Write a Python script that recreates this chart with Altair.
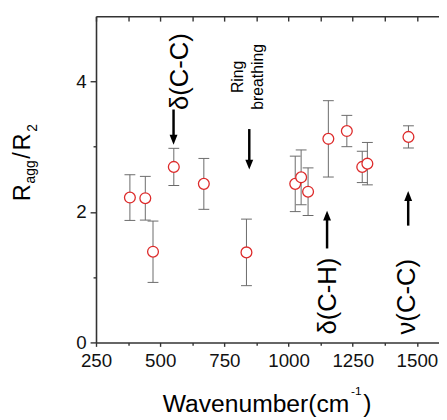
import altair as alt
import pandas as pd

# ---- data ----
wavenumber = [382, 442, 472, 553, 670, 836, 1026, 1049, 1076, 1155, 1227, 1287, 1307, 1467]
ratio = [2.22, 2.21, 1.39, 2.69, 2.43, 1.38, 2.43, 2.53, 2.31, 3.12, 3.24, 2.69, 2.74, 3.15]
error = [0.35, 0.335, 0.47, 0.285, 0.39, 0.51, 0.425, 0.42, 0.365, 0.585, 0.24, 0.24, 0.325, 0.17]

arrow_x = [552, 847, 1150, 1466]
arrow_tail = [3.57, 3.27, 1.44, 1.79]
arrow_tip = [3.03, 2.65, 2.02, 2.32]

big_labels = ["δ(C-C)", "δ(C-H)", "ν(C-C)"]
big_label_x = [579, 1155, 1462]
big_label_y = [4.15, 0.71, 0.70]
small_labels = ["Ring", "breathing"]
small_label_x = [802, 882]
small_label_y = [4.07, 4.07]

x_ticks = [250, 375, 500, 625, 750, 875, 1000, 1125, 1250, 1375, 1500]
y_ticks = [0, 1, 2, 3, 4]
x_domain = [250, 1586]
y_domain = [0, 5.0]

x_title_parts = ["Wavenumber(cm", "-1", ")"]
y_title_parts = ["R", "agg", "/", "R", "2"]

# ---- styling ----
FONT = "Liberation Sans"
AX = "#333333"
RED = "#dd2a2a"
GREY = "#6a6a6a"

df = pd.DataFrame({"w": wavenumber, "r": ratio, "e": error})
df["lo"] = df["r"] - df["e"]
df["hi"] = df["r"] + df["e"]

arr = pd.DataFrame({"x": arrow_x, "tail": arrow_tail, "tip": arrow_tip})
big = pd.DataFrame({"t": big_labels, "x": big_label_x, "y": big_label_y})
small = pd.DataFrame({"t": small_labels, "x": small_label_x, "y": small_label_y})

xs = alt.Scale(domain=x_domain, nice=False, zero=False)
ys = alt.Scale(domain=y_domain, nice=False, zero=False)

common_axis = dict(
    title=None, grid=False, domainColor=AX, domainWidth=1.6, tickColor=AX,
    tickWidth=1.4, labelFont=FONT, labelFontSize=19, labelColor="#111111",
    labelOverlap=False, labelFlush=False,
)

x_bottom = alt.Axis(
    orient="bottom", values=x_ticks, format="d",
    labelExpr="datum.value % 250 === 0 ? datum.label : ''",
    tickSize={"condition": {"test": "datum.value % 250 === 0", "value": 4}, "value": 3},
    labelPadding=5, **common_axis,
)
x_top = alt.Axis(
    orient="top", values=x_ticks, labels=False, tickSize={"expr": "-5"},
    title=None, grid=False, domainColor=AX, domainWidth=1.6, tickColor=AX, tickWidth=1.4,
)
y_left = alt.Axis(
    orient="left", values=y_ticks, format="d",
    labelExpr="datum.value % 2 === 0 ? datum.label : ''",
    tickSize={"condition": {"test": "datum.value % 2 === 0", "value": 6}, "value": 3},
    labelPadding=4, **common_axis,
)

err_rule = alt.Chart(df).mark_rule(color=GREY, strokeWidth=1).encode(
    x=alt.X("w:Q", scale=xs, axis=x_bottom),
    y=alt.Y("lo:Q", scale=ys, axis=y_left),
    y2="hi:Q",
)

caps = alt.Chart(df).transform_fold(["lo", "hi"], as_=["k", "v"]).mark_tick(
    orient="horizontal", size=11, thickness=1, color=GREY, opacity=1
).encode(
    x=alt.X("w:Q", scale=xs, axis=None),
    y=alt.Y("v:Q", scale=ys, axis=None),
)

circles = alt.Chart(df).mark_point(
    shape="circle", filled=True, fill="white", stroke=RED, strokeWidth=1.3,
    size=120, opacity=1,
).encode(
    x=alt.X("w:Q", scale=xs, axis=x_top),
    y=alt.Y("r:Q", scale=ys, axis=None),
)

shaft = alt.Chart(arr).transform_calculate(
    base="datum.tip + (datum.tail > datum.tip ? 0.12 : -0.12)"
).mark_rule(color="black", strokeWidth=2.5).encode(
    x=alt.X("x:Q", scale=xs, axis=None),
    y=alt.Y("tail:Q", scale=ys, axis=None),
    y2="base:Q",
)

head = alt.Chart(arr).mark_point(
    shape="M0,0L-0.8,-2L0.8,-2Z", filled=True, fill="black", strokeWidth=0,
    size=100, opacity=1,
).encode(
    x=alt.X("x:Q", scale=xs, axis=None),
    y=alt.Y("tip:Q", scale=ys, axis=None),
    angle=alt.condition("datum.tail > datum.tip", alt.value(0), alt.value(180)),
)

big_text = alt.Chart(big).mark_text(
    font=FONT, fontSize=26, angle=270, align="center", baseline="middle", color="black"
).encode(
    x=alt.X("x:Q", scale=xs, axis=None),
    y=alt.Y("y:Q", scale=ys, axis=None),
    text="t:N",
)

small_text = alt.Chart(small).mark_text(
    font=FONT, fontSize=16, angle=270, align="center", baseline="middle", color="black"
).encode(
    x=alt.X("x:Q", scale=xs, axis=None),
    y=alt.Y("y:Q", scale=ys, axis=None),
    text="t:N",
)


def frag(text, px, py, size, angle=0):
    kw = dict(font=FONT, fontSize=size, align="left", baseline="alphabetic", color="black")
    if angle:
        kw["angle"] = angle
    return alt.Chart(alt.Data(values=[{"t": text}])).mark_text(**kw).encode(
        x=alt.value(px), y=alt.value(py), text="t:N"
    )


x_title_layers = [
    frag(x_title_parts[0], 67.7, 401.7, 25),
    frag(x_title_parts[1], 258.7, 384.7, 12),
    frag(x_title_parts[2], 271.2, 401.7, 25),
]
y_title_layers = [
    frag(y_title_parts[0], -67.3, 187.7, 24, 270),
    frag(y_title_parts[1], -62.3, 169.7, 14, 270),
    frag(y_title_parts[2], -67.3, 144.7, 24, 270),
    frag(y_title_parts[3], -67.3, 136.2, 24, 270),
    frag(y_title_parts[4], -60.3, 117.2, 14, 270),
]

chart = alt.layer(
    err_rule, caps, circles, shaft, head, big_text, small_text,
    *x_title_layers, *y_title_layers,
).resolve_axis(x="independent", y="independent").properties(
    width=348, height=331,
    autosize=alt.AutoSizeParams(type="none"),
    padding={"left": 89.3, "top": 5.3, "right": 0, "bottom": 75.7},
    background="white",
).configure_view(stroke=None)

chart.save("out.html", embed_options={"renderer": "svg", "actions": False})
